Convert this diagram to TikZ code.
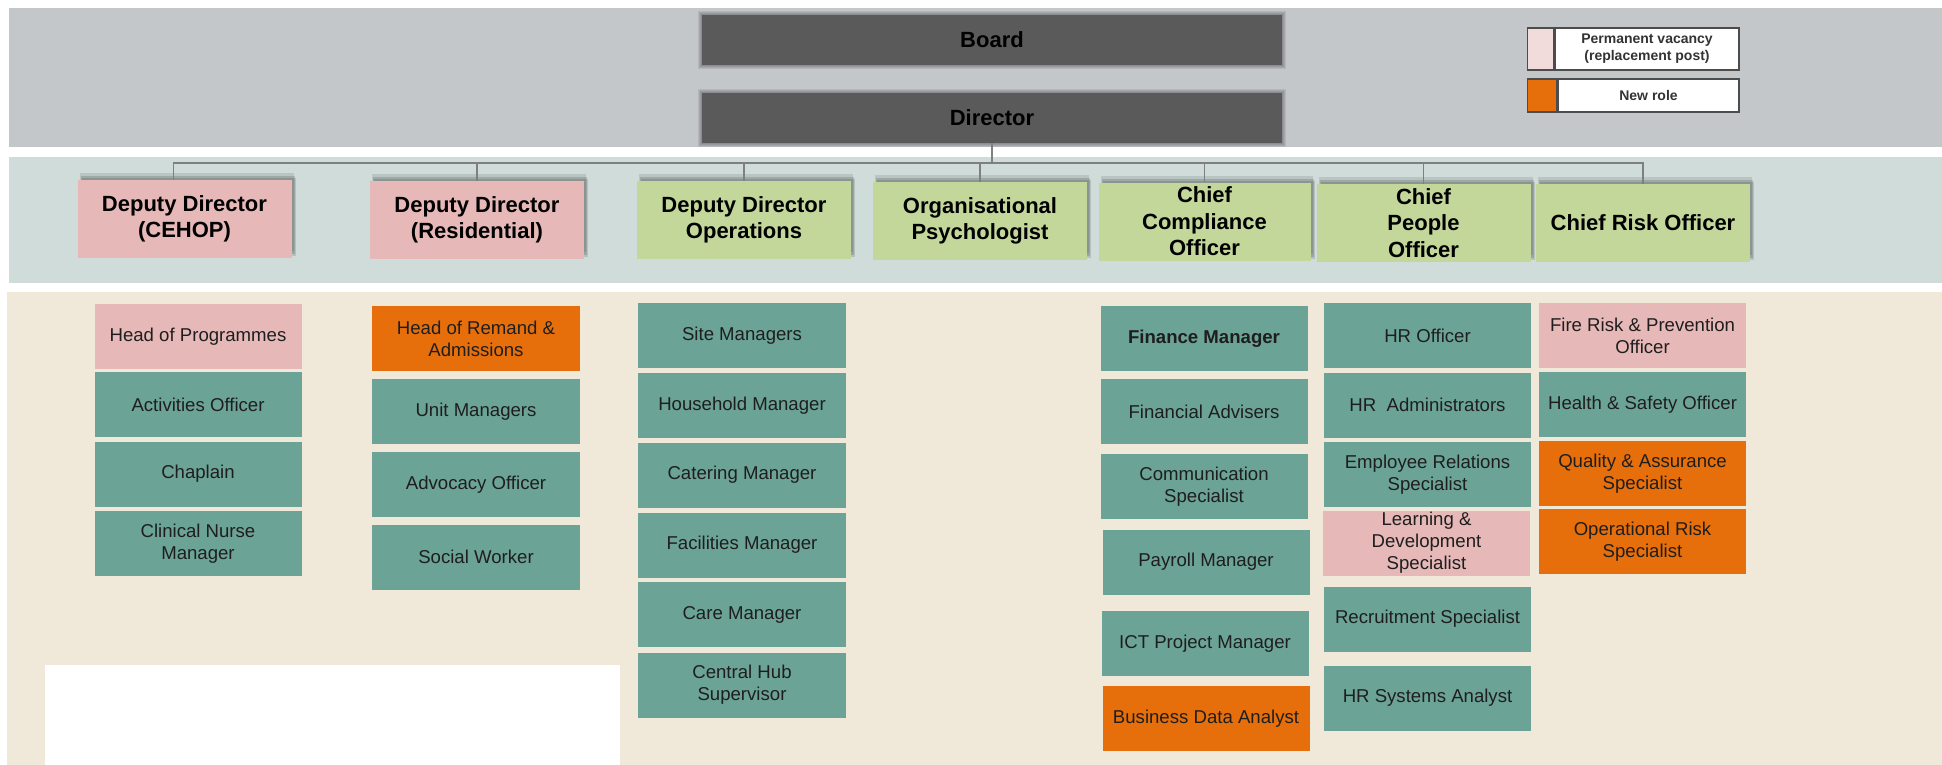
\documentclass[tikz,border=0pt]{standalone}
\usepackage{fontspec}
\setmainfont{Liberation Sans}
\usetikzlibrary{shadows}

\definecolor{bandgrey}{HTML}{C4C7CA}
\definecolor{bandblue}{HTML}{CFDCD9}
\definecolor{bandsand}{HTML}{F0E8D8}
\definecolor{topgrey}{HTML}{5A5A5A}
\definecolor{vacpink}{HTML}{E6B9B8}
\definecolor{keypink}{HTML}{F2DCDB}
\definecolor{leadgreen}{HTML}{C4D79B}
\definecolor{staffteal}{HTML}{6CA397}
\definecolor{neworange}{HTML}{E66F0C}
\definecolor{linegrey}{HTML}{7F7F7F}
\definecolor{inkdark}{HTML}{1E1E1E}

\begin{document}
\begin{tikzpicture}[x=0.5pt,y=-0.5pt,
  execbox/.style={rectangle, fill=topgrey, minimum width=290pt, minimum height=25pt,
    inner sep=0pt, font=\bfseries\fontsize{11}{13}\selectfont, text=black},
  leadbox/.style={rectangle, minimum width=107pt, minimum height=39pt, inner sep=0pt,
    align=center, text=black, font=\bfseries\fontsize{11}{13.2}\selectfont,
    general shadow={fill=black, opacity=.10, shadow xshift=1pt, shadow yshift=3.5pt},
    general shadow={fill=black, opacity=.14, shadow xshift=1.5pt, shadow yshift=2pt},
    general shadow={fill=black, opacity=.12, shadow xshift=2pt, shadow yshift=1pt}},
  rolebox/.style={rectangle, minimum width=103.5pt, minimum height=32.5pt, inner sep=0pt,
    align=center, text=inkdark, font=\fontsize{9.3}{11}\selectfont},
  team/.style={rolebox, fill=staffteal},
  vacant/.style={rolebox, fill=vacpink},
  newrole/.style={rolebox, fill=neworange},
  keytext/.style={rectangle, draw=black!70, line width=0.6pt, fill=white, inner sep=0pt,
    align=center, text=black!80, font=\bfseries\fontsize{7}{8.4}\selectfont},
  keyswatch/.style={rectangle, draw=black!70, line width=0.6pt, inner sep=0pt},
  conn/.style={draw=linegrey, line width=0.75pt}]

\useasboundingbox (0,0) rectangle (1942,765);

% background bands
\fill[bandgrey] (9,8) rectangle (1942,147);
\fill[bandblue] (9,157) rectangle (1942,283);
\fill[bandsand] (7,292) rectangle (1942,765);
\fill[white] (45,665) rectangle (620,765);

% soft shadow round the top two boxes
\foreach \k in {1,...,4}{
  \fill[black, opacity=0.08] (702-\k,15-\k) rectangle (1282+\k,65+\k);
  \fill[black, opacity=0.08] (702-\k,93-\k) rectangle (1282+\k,143+\k);
}

% board and director
\node[execbox] (board) at (992,40) {Board};
\node[execbox] (dir) at (992,118) {Director};

% legend
\node[keytext, minimum width=92pt, minimum height=21pt] (leg1) at (1647,49)
  {Permanent vacancy\\(replacement post)};
\node[keyswatch, fill=keypink, minimum width=13pt, minimum height=21pt, anchor=east]
  (key1) at (leg1.west) {};
\node[keytext, minimum width=90.5pt, minimum height=16.5pt] (leg2) at (1648.5,95.5)
  {New role};
\node[keyswatch, fill=neworange, minimum width=14.5pt, minimum height=16.5pt, anchor=east]
  (key2) at (leg2.west) {};

% second tier
\node[leadbox, fill=vacpink] (ddc) at (184.5,219) {Deputy Director\\(CEHOP)};
\node[leadbox, fill=vacpink] (ddr) at (477,220) {Deputy Director\\(Residential)};
\node[leadbox, fill=leadgreen] (ddo) at (744,220) {Deputy Director\\Operations};
\node[leadbox, fill=leadgreen] (orgp) at (980,221) {Organisational\\Psychologist};
\node[leadbox, fill=leadgreen, minimum width=106pt] (cco) at (1204.5,221.5) {Chief\\Compliance\\Officer};
\node[leadbox, fill=leadgreen] (cpo) at (1423.5,223) {Chief\\People\\Officer};
\node[leadbox, fill=leadgreen] (cro) at (1643,223) {Chief Risk Officer};

% reporting lines
\coordinate (bus) at (992,163);
\draw[conn] (dir.south) -- (bus);
\draw[conn] (bus) -| ([xshift=-5.5pt]ddc.north);
\foreach \n in {ddr,ddo,orgp,cco,cpo,cro}
  \draw[conn] (bus) -| (\n.north);

% CEHOP team
\node[vacant] (hop) at (198,336.5) {Head of Programmes};
\node[team] (act) at (198,404.5) {Activities Officer};
\node[team] (chap) at (198,474) {Chaplain};
\node[team] (cnm) at (198,543.5) {Clinical Nurse\\Manager};

% residential team
\node[newrole, minimum width=104pt] (hra) at (476,338.5) {Head of Remand \&\\Admissions};
\node[team, minimum width=104pt] (unit) at (476,411.5) {Unit Managers};
\node[team, minimum width=104pt] (advo) at (476,484.5) {Advocacy Officer};
\node[team, minimum width=104pt] (soc) at (476,557) {Social Worker};

% operations team
\node[team, minimum width=104pt] (site) at (742,335.5) {Site Managers};
\node[team, minimum width=104pt] (house) at (742,405.5) {Household Manager};
\node[team, minimum width=104pt] (cater) at (742,475) {Catering Manager};
\node[team, minimum width=104pt] (facil) at (742,545) {Facilities Manager};
\node[team, minimum width=104pt] (care) at (742,614.5) {Care Manager};
\node[team, minimum width=104pt] (hub) at (742,685) {Central Hub\\Supervisor};

% compliance team
\node[team, font=\bfseries\fontsize{9.3}{11}\selectfont] (fin) at (1204,338.5) {Finance Manager};
\node[team] (fadv) at (1204,411.5) {Financial Advisers};
\node[team] (comm) at (1204,486.5) {Communication\\Specialist};
\node[team] (pay) at (1206,562) {Payroll Manager};
\node[team] (ict) at (1205,643.5) {ICT Project Manager};
\node[newrole] (bda) at (1206,718.5) {Business Data Analyst};

% people team
\node[team] (hro) at (1427.5,335.5) {HR Officer};
\node[team] (hradm) at (1427.5,405) {HR~~Administrators};
\node[team] (emp) at (1427.5,474.5) {Employee Relations\\Specialist};
\node[vacant] (lnd) at (1426.5,543) {Learning \&\\Development\\Specialist};
\node[team] (recr) at (1427.5,619) {Recruitment Specialist};
\node[team] (hrsys) at (1427.5,698) {HR Systems Analyst};

% risk team
\node[vacant] (fire) at (1642.5,335.5) {Fire Risk \& Prevention\\Officer};
\node[team] (hs) at (1642.5,404.5) {Health \& Safety Officer};
\node[newrole] (qa) at (1642.5,473.5) {Quality \& Assurance\\Specialist};
\node[newrole] (ors) at (1642.5,541.5) {Operational Risk\\Specialist};

\end{tikzpicture}
\end{document}
